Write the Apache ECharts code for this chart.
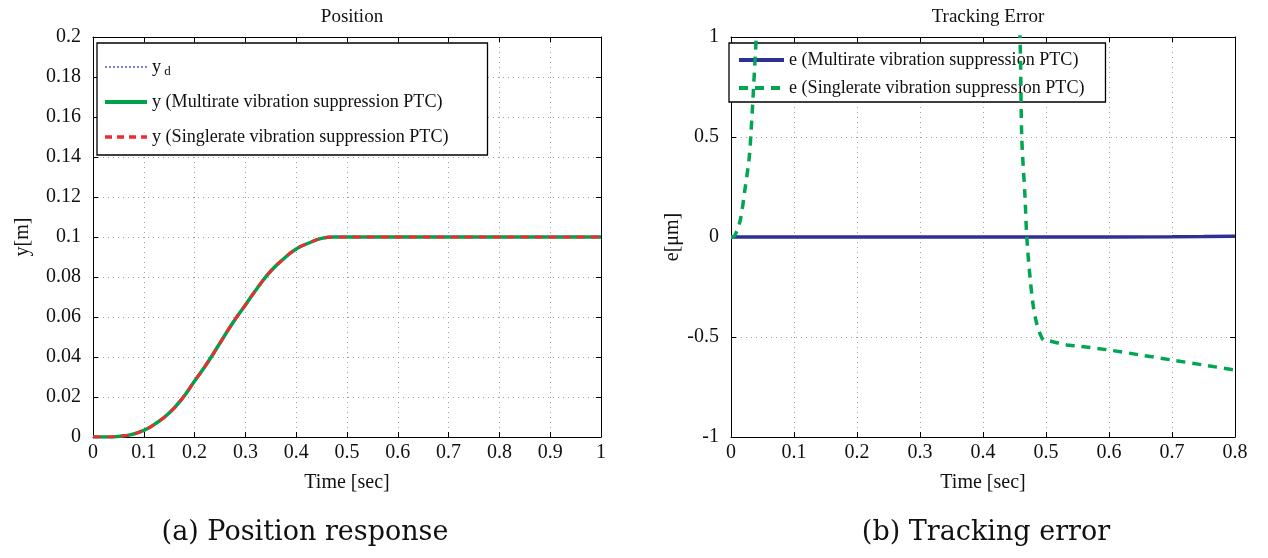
<!DOCTYPE html>
<html>
<head>
<meta charset="utf-8">
<script src="https://cdn.jsdelivr.net/npm/echarts@6/dist/echarts.min.js"></script>
<style>
html,body{margin:0;padding:0;background:#fff;}
#c{width:1268px;height:558px;}
</style>
</head>
<body>
<div id="c"></div>
<script>
// ---- Data ----
const posTime   = [0,0.025,0.05,0.075,0.1,0.125,0.15,0.175,0.2,0.225,0.25,0.275,0.3,0.325,0.35,0.375,0.4,0.425,0.45,0.475,0.5,0.6,0.7,0.8,0.9,1.0];
const posYd     = [0,0,0.0003,0.0012,0.0033,0.007,0.012,0.019,0.028,0.037,0.047,0.057,0.066,0.075,0.083,0.089,0.094,0.097,0.0993,0.1,0.1,0.1,0.1,0.1,0.1,0.1];
const posMulti  = [0,0,0.0003,0.0012,0.0033,0.007,0.012,0.019,0.028,0.037,0.047,0.057,0.066,0.075,0.083,0.089,0.094,0.097,0.0993,0.1,0.1,0.1,0.1,0.1,0.1,0.1];
const posSingle = [0,0,0.0003,0.0012,0.0033,0.007,0.012,0.019,0.028,0.037,0.047,0.057,0.066,0.075,0.083,0.089,0.094,0.097,0.0993,0.1,0.1,0.1,0.1,0.1,0.1,0.1];

const errMultiTime  = [0,0.1,0.2,0.3,0.4,0.5,0.6,0.7,0.75,0.8];
const errMulti      = [0,0,0,0,0,0,0,0.001,0.002,0.004];
const errSingleTime = [0,0.003,0.014,0.022,0.029,0.032,0.035,0.040,0.045,0.3,0.455,0.459,0.4615,0.4667,0.4693,0.4746,0.48,0.485,0.490,0.496,0.506,0.533,0.55,0.6,0.65,0.7,0.75,0.8];
const errSingle     = [0,0,0.075,0.235,0.40,0.535,0.70,0.995,1.3,null,1.2,0.97,0.50,0.20,0.01,-0.20,-0.35,-0.43,-0.48,-0.515,-0.52,-0.54,-0.545,-0.565,-0.59,-0.615,-0.64,-0.665];

const posXTicks = {min:0,max:1,interval:0.1};
const posYTicks = {min:0,max:0.2,interval:0.02};
const errXTicks = {min:0,max:0.8,interval:0.1};
const errYTicks = {min:-1,max:1,interval:0.5};

const pair = (xs, ys) => xs.map((x,i)=>[x, ys[i]]);

const FONT = 'Liberation Serif';
const chart = echarts.init(document.getElementById('c'), null, {renderer:'canvas'});

function xAxes(gridIndex, t, name){
  const base = {
    type:'value', gridIndex, min:t.min, max:t.max, interval:t.interval,
    axisLine:{show:true,onZero:false,lineStyle:{color:'#000',width:1}},
    axisTick:{show:true,inside:true,length:5,lineStyle:{color:'#000'}},
  };
  return [
    Object.assign({}, base, {
      position:'bottom', name, nameLocation:'middle', nameGap:36,
      nameTextStyle:{fontFamily:FONT,fontSize:20,color:'#111'},
      axisLabel:{fontFamily:FONT,fontSize:20,color:'#111',margin:6,formatter:v=>String(+v.toFixed(2))},
      splitLine:{show:true,lineStyle:{color:'#a0a0a0',type:[1,4],width:1}}
    }),
    Object.assign({}, base, {position:'top', axisLabel:{show:false}, splitLine:{show:false}})
  ];
}
function yAxes(gridIndex, t, name, gap){
  const base = {
    type:'value', gridIndex, min:t.min, max:t.max, interval:t.interval,
    axisLine:{show:true,onZero:false,lineStyle:{color:'#000',width:1}},
    axisTick:{show:true,inside:true,length:5,lineStyle:{color:'#000'}},
  };
  return [
    Object.assign({}, base, {
      position:'left', name, nameLocation:'middle', nameGap:gap,
      nameTextStyle:{fontFamily:FONT,fontSize:20,color:'#111'},
      axisLabel:{fontFamily:FONT,fontSize:20,color:'#111',margin:12,formatter:v=>String(+v.toFixed(2))},
      splitLine:{show:true,lineStyle:{color:'#a0a0a0',type:[1,4],width:1}}
    }),
    Object.assign({}, base, {position:'right', axisLabel:{show:false}, splitLine:{show:false}})
  ];
}

const xs1 = xAxes(0, posXTicks, 'Time [sec]');
const xs2 = xAxes(1, errXTicks, 'Time [sec]');
const ys1 = yAxes(0, posYTicks, 'y[m]', 60);
const ys2 = yAxes(1, errYTicks, 'e[\u03bcm]', 48);

const LFS = 18.1;
const option = {
  backgroundColor:'#fff',
  animation:false,
  title:[
    {text:'Position', left:347, top:3, textAlign:'center', textStyle:{fontFamily:FONT,fontSize:19,fontWeight:'normal',color:'#111'}},
    {text:'Tracking Error', left:983, top:3, textAlign:'center', textStyle:{fontFamily:FONT,fontSize:19,fontWeight:'normal',color:'#111'}}
  ],
  grid:[
    {left:93, top:37, width:508, height:400},
    {left:731, top:37, width:504, height:400}
  ],
  xAxis: xs1.concat(xs2),
  yAxis: ys1.concat(ys2),
  legend:[
    {
      data:[
        {name:'y_d', lineStyle:{width:2,type:[2,2],color:'#7b7fd8'}},
        {name:'y (Multirate vibration suppression PTC)', lineStyle:{width:4,type:'solid',color:'#00a14b'}},
        {name:'y (Singlerate vibration suppression PTC)', lineStyle:{width:3.5,type:[7,5],color:'#ee2b2f'}}
      ],
      orient:'vertical', left:97, top:43,
      backgroundColor:'#fff', borderColor:'#000', borderWidth:1.3, borderRadius:0,
      padding:[13,39,7,6], itemGap:13, itemWidth:42, itemHeight:16,
      itemStyle:{opacity:0},
      textStyle:{fontFamily:FONT,fontSize:LFS,color:'#111',lineHeight:22,
        rich:{a:{fontFamily:FONT,fontSize:LFS,color:'#111',lineHeight:22},
              s:{fontFamily:FONT,fontSize:13,color:'#111',lineHeight:22,verticalAlign:'bottom'}}},
      formatter:n=> n==='y_d' ? '{a|y}{s| d}' : n
    },
    {
      data:[
        {name:'e (Multirate vibration suppression PTC)', lineStyle:{width:4,type:'solid',color:'#2e3192'}},
        {name:'e (Singlerate vibration suppression PTC)', lineStyle:{width:4,type:[9,7],color:'#00a651'}}
      ],
      orient:'vertical', left:729, top:43,
      backgroundColor:'#fff', borderColor:'#000', borderWidth:1.3, borderRadius:0,
      padding:[6,21,3,8], itemGap:6, itemWidth:45, itemHeight:16,
      itemStyle:{opacity:0},
      textStyle:{fontFamily:FONT,fontSize:LFS,color:'#111',lineHeight:22}
    }
  ],
  series:[
    {name:'y_d', type:'line', xAxisIndex:0, yAxisIndex:0, data:pair(posTime,posYd), symbol:'none', smooth:true, z:2,
      lineStyle:{color:'#7b7fd8',width:2,type:[2,2]}, itemStyle:{color:'#7b7fd8'}},
    {name:'y (Multirate vibration suppression PTC)', type:'line', xAxisIndex:0, yAxisIndex:0, data:pair(posTime,posMulti), symbol:'none', smooth:true, z:3,
      lineStyle:{color:'#00a14b',width:3.5}, itemStyle:{color:'#00a14b'}},
    {name:'y (Singlerate vibration suppression PTC)', type:'line', xAxisIndex:0, yAxisIndex:0, data:pair(posTime,posSingle), symbol:'none', smooth:true, z:4,
      lineStyle:{color:'#ee2b2f',width:3,type:[8,6]}, itemStyle:{color:'#ee2b2f'}},
    {name:'e (Multirate vibration suppression PTC)', type:'line', xAxisIndex:2, yAxisIndex:2, data:pair(errMultiTime,errMulti), symbol:'none', z:3,
      lineStyle:{color:'#2e3192',width:3.5}, itemStyle:{color:'#2e3192'}},
    {name:'e (Singlerate vibration suppression PTC)', type:'line', xAxisIndex:2, yAxisIndex:2, data:pair(errSingleTime,errSingle), symbol:'none', smooth:0.3, connectNulls:false, clip:true, z:4,
      lineStyle:{color:'#00a651',width:3.5,type:[9,7]}, itemStyle:{color:'#00a651'}}
  ],
  graphic:[
    {type:'text', position:[305,533], style:{text:'(a) Position response', font:'27px "DejaVu Serif", serif', fill:'#111', textAlign:'center', textVerticalAlign:'middle'}},
    {type:'text', position:[986,533], style:{text:'(b) Tracking error', font:'27px "DejaVu Serif", serif', fill:'#111', textAlign:'center', textVerticalAlign:'middle'}}
  ]
};
chart.setOption(option);
</script>
</body>
</html>
